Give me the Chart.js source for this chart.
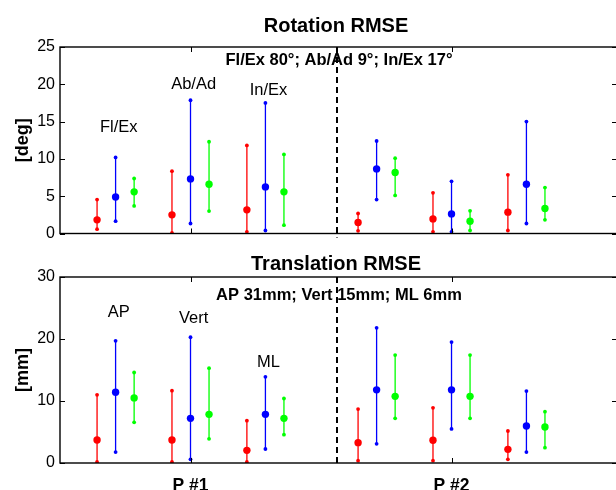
<!DOCTYPE html>
<html><head><meta charset="utf-8">
<script src="https://cdn.jsdelivr.net/npm/chart.js@4.4.1/dist/chart.umd.min.js"></script>
<style>
html,body{margin:0;padding:0;background:#fff;overflow:hidden;}
#wrap{position:relative;width:616px;height:490px;overflow:hidden;background:#fff;}
canvas{position:absolute;left:0;}
</style></head><body>
<div id="wrap">
<canvas id="c1" width="622" height="252" style="top:0"></canvas>
<canvas id="c2" width="622" height="245" style="top:245px"></canvas>
</div>
<script>
// ---- data ----
const patients = ['P #1', 'P #2'];
const rotCategories = ['Fl/Ex', 'Ab/Ad', 'In/Ex'];
const trCategories = ['AP', 'Vert', 'ML'];
const rotTitle = 'Rotation RMSE';
const trTitle = 'Translation RMSE';
const rotNote = 'Fl/Ex 80°; Ab/Ad 9°; In/Ex 17°';
const trNote = 'AP 31mm; Vert 15mm; ML 6mm';
const rotUnit = '[deg]';
const trUnit = '[mm]';
const rotTicks = [0, 5, 10, 15, 20, 25];
const trTicks = [0, 10, 20, 30];

// order: P#1 (3 categories), then P#2 (3 categories)
const rotRedMean   = [1.83, 2.5, 3.17, 1.47, 1.96, 2.86];
const rotRedMin    = [0.58, 0.09, 0.22, 0.36, 0.22, 0.4];
const rotRedMax    = [4.55, 8.35, 11.8, 2.68, 5.45, 7.86];
const rotBlueMean  = [4.9, 7.32, 6.25, 8.66, 2.63, 6.6];
const rotBlueMin   = [1.65, 1.34, 0.4, 4.55, 0.22, 1.34];
const rotBlueMax   = [10.2, 17.86, 17.5, 12.4, 7.0, 15.0];
const rotGreenMean = [5.58, 6.6, 5.58, 8.17, 1.65, 3.35];
const rotGreenMin  = [3.7, 3.0, 1.12, 5.1, 0.4, 1.83];
const rotGreenMax  = [7.37, 12.3, 10.6, 10.1, 3.04, 6.16];

const trRedMean   = [3.7, 3.7, 2.04, 3.28, 3.66, 2.2];
const trRedMin    = [0.16, 0.16, 0.16, 0.38, 0.38, 0.6];
const trRedMax    = [11.0, 11.67, 6.83, 8.7, 8.9, 5.16];
const trBlueMean  = [11.4, 7.2, 7.85, 11.8, 11.8, 5.97];
const trBlueMin   = [1.77, 0.6, 2.26, 3.1, 5.5, 1.77];
const trBlueMax   = [19.7, 20.3, 13.9, 21.8, 19.5, 11.6];
const trGreenMean = [10.5, 7.85, 7.2, 10.75, 10.75, 5.8];
const trGreenMin  = [6.56, 3.9, 4.57, 7.2, 7.2, 2.47];
const trGreenMax  = [14.6, 15.3, 10.4, 17.4, 17.4, 8.28];

// label anchor heights (data units) for category labels
const rotLabelY = [13.6, 19.4, 18.6];
const trLabelY = [23.6, 22.6, 15.5];

// ---- layout / style ----
const FONT = '"Liberation Sans", Arial, Helvetica, sans-serif';
const COLORS = ['#ff0000', '#0000ff', '#00ff00'];
const GROUP_OFFSET = 0.287, COLOR_OFFSET = 0.071, SEPARATOR_X = 1.56;
const X_MIN = 0.5, X_MAX = 2.634;

function xPos(i, c) {
  const p = Math.floor(i / 3) + 1;
  const g = (i % 3) - 1;
  return p + g * GROUP_OFFSET + (c - 1) * COLOR_OFFSET;
}
function rangeData(mins, maxs, c) {
  const out = [];
  mins.forEach((m, i) => {
    const x = xPos(i, c);
    out.push({x: x, y: m}, {x: x, y: maxs[i]}, {x: x, y: null});
  });
  return out;
}
function meanData(means, c) {
  return means.map((v, i) => ({x: xPos(i, c), y: v}));
}
function buildDatasets(series) {
  const ds = [];
  series.forEach((s, c) => {
    ds.push({
      type: 'line', data: rangeData(s.min, s.max, c), order: 2,
      borderColor: COLORS[c], backgroundColor: COLORS[c], borderWidth: 1.3,
      pointRadius: 1.9, pointBackgroundColor: COLORS[c], pointBorderWidth: 0,
      showLine: true, spanGaps: false
    });
  });
  series.forEach((s, c) => {
    ds.push({
      type: 'line', data: meanData(s.mean, c), order: 1,
      borderColor: COLORS[c], backgroundColor: COLORS[c],
      pointRadius: 3.7, pointBackgroundColor: COLORS[c], pointBorderWidth: 0,
      showLine: false
    });
  });
  return ds;
}

function framePlugin(cfg) {
  return {
    id: 'frame',
    afterDraw(chart) {
      const {ctx, chartArea: a, scales: {x, y}} = chart;
      ctx.save();
      // separator
      ctx.strokeStyle = '#000';
      ctx.lineWidth = 2;
      ctx.setLineDash([6, 4]);
      const sx = Math.round(x.getPixelForValue(SEPARATOR_X));
      ctx.beginPath(); ctx.moveTo(sx, a.top); ctx.lineTo(sx, a.bottom + 4); ctx.stroke();
      ctx.setLineDash([]);
      // box
      ctx.lineWidth = 1.4;
      ctx.strokeRect(a.left, a.top, a.right - a.left, a.bottom - a.top);
      // inner ticks
      ctx.lineWidth = 1;
      ctx.beginPath();
      y.ticks.forEach(t => {
        const py = Math.round(y.getPixelForValue(t.value)) + 0.5;
        ctx.moveTo(a.left, py); ctx.lineTo(a.left + 5, py);
        ctx.moveTo(a.right, py); ctx.lineTo(a.right - 5, py);
      });
      x.ticks.forEach(t => {
        const px = Math.round(x.getPixelForValue(t.value)) + 0.5;
        ctx.moveTo(px, a.bottom); ctx.lineTo(px, a.bottom - 5);
        ctx.moveTo(px, a.top); ctx.lineTo(px, a.top + 5);
      });
      ctx.stroke();
      // texts
      ctx.fillStyle = '#000';
      ctx.textAlign = 'center';
      ctx.textBaseline = 'alphabetic';
      ctx.font = 'bold 20px ' + FONT;
      ctx.fillText(cfg.title, 336, cfg.titleBase);
      ctx.font = 'bold 16.5px ' + FONT;
      ctx.fillText(cfg.note, 339, cfg.noteBase);
      ctx.font = '16.5px ' + FONT;
      cfg.cats.forEach((lab, g) => {
        ctx.fillText(lab, x.getPixelForValue(xPos(g, 1) + 0.012), y.getPixelForValue(cfg.labelY[g]));
      });
      // y unit
      ctx.save();
      ctx.translate(23, (a.top + a.bottom) / 2);
      ctx.rotate(-Math.PI / 2);
      ctx.textBaseline = 'middle';
      ctx.font = cfg.unitFont + FONT;
      ctx.fillText(cfg.unit, 0, 0);
      ctx.restore();
      ctx.restore();
    }
  };
}

function makeChart(id, series, o) {
  return new Chart(document.getElementById(id), {
    type: 'line',
    data: {datasets: buildDatasets(series)},
    options: {
      responsive: false, animation: false, devicePixelRatio: 1,
      layout: {padding: {top: o.padTop, right: 5, left: 0, bottom: 0}},
      plugins: {legend: {display: false}, tooltip: {enabled: false}, title: {display: false}},
      scales: {
        x: {
          type: 'linear', min: X_MIN, max: X_MAX,
          grid: {display: false, drawTicks: false}, border: {display: false},
          afterBuildTicks: s => { s.ticks = patients.map((p, i) => ({value: i + 1})); },
          ticks: {display: o.showX, autoSkip: false, maxRotation: 0, padding: 13, color: '#000',
                  font: {size: 17.5, weight: 'bold', family: FONT},
                  callback: v => patients[Math.round(v) - 1]},
          afterFit: s => { s.height = o.xHeight; }
        },
        y: {
          type: 'linear', min: 0, max: o.ticks[o.ticks.length - 1],
          grid: {display: false, drawTicks: false}, border: {display: false},
          afterBuildTicks: s => { s.ticks = o.ticks.map(v => ({value: v})); },
          ticks: {padding: 5, color: '#000', font: {size: 16, family: FONT}},
          afterFit: s => { s.width = 60; }
        }
      }
    },
    plugins: [framePlugin(o)]
  });
}

makeChart('c1', [
  {mean: rotRedMean, min: rotRedMin, max: rotRedMax},
  {mean: rotBlueMean, min: rotBlueMin, max: rotBlueMax},
  {mean: rotGreenMean, min: rotGreenMin, max: rotGreenMax}
], {padTop: 47, xHeight: 18.5, showX: false, ticks: rotTicks, title: rotTitle, titleBase: 32,
    note: rotNote, noteBase: 65, cats: rotCategories, labelY: rotLabelY, unit: rotUnit, unitFont: 'bold 18px '});

makeChart('c2', [
  {mean: trRedMean, min: trRedMin, max: trRedMax},
  {mean: trBlueMean, min: trBlueMin, max: trBlueMax},
  {mean: trGreenMean, min: trGreenMin, max: trGreenMax}
], {padTop: 32, xHeight: 27, showX: true, ticks: trTicks, title: trTitle, titleBase: 25,
    note: trNote, noteBase: 55, cats: trCategories, labelY: trLabelY, unit: trUnit, unitFont: 'bold 18px '});
</script>
</body></html>
